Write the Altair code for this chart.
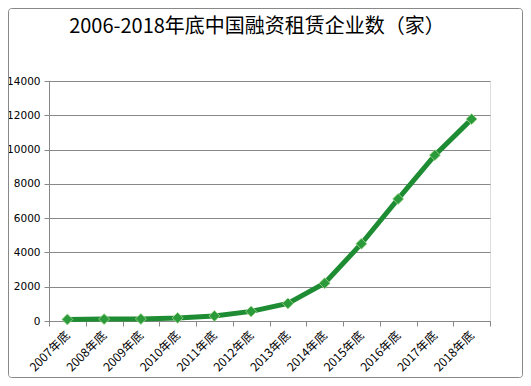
import altair as alt
import pandas as pd

years = ["2007年底", "2008年底", "2009年底", "2010年底", "2011年底", "2012年底",
         "2013年底", "2014年底", "2015年底", "2016年底", "2017年底", "2018年底"]
counts = [93, 110, 120, 182, 296, 560, 1026, 2202, 4508, 7120, 9676, 11777]
y_ticks = [0, 2000, 4000, 6000, 8000, 10000, 12000, 14000]
title_text = "2006-2018年底中国融资租赁企业数（家）"

df = pd.DataFrame({"year": years, "count": counts})

x_enc = alt.X("year:N", sort=years, title=None,
              scale=alt.Scale(paddingInner=0, paddingOuter=0),
              axis=alt.Axis(labelAngle=-45, labelAlign="right", labelBaseline="middle",
                            tickBand="extent", labelFont="Noto Sans CJK SC",
                            labelFontSize=12, labelColor="#000", domainColor="#888",
                            tickColor="#888", tickSize=5, labelPadding=7, grid=False))
y_enc = alt.Y("count:Q", title=None,
              scale=alt.Scale(domain=[0, 14000], nice=False),
              axis=alt.Axis(values=y_ticks, format="d", labelFont="DejaVu Sans", labelFontSize=10.5,
                            labelColor="#000", domainColor="#888", tickColor="#888",
                            tickSize=5, gridColor="#888", gridWidth=1, labelPadding=4))

line = alt.Chart(df).mark_line(color="#1e8c32", strokeWidth=5).encode(x=x_enc, y=y_enc)
pts = alt.Chart(df).mark_point(shape="diamond", filled=True, size=120, color="#2a9a3a",
                               stroke="#a6d98f", strokeWidth=0.8, opacity=1).encode(x=x_enc, y=y_enc)

one = pd.DataFrame({"t": [title_text]})
border = alt.Chart(one).mark_rect(
    fill="transparent", stroke="#888", strokeWidth=1, cornerRadius=3, clip=False
).encode(x=alt.value(-40.5), x2=alt.value(473.5), y=alt.value(-72.5), y2=alt.value(296.5))

title = alt.Chart(one).mark_text(
    font="Noto Sans CJK SC", fontSize=20, color="#000", align="center", baseline="middle"
).encode(text="t:N", x=alt.value(208), y=alt.value(-54))

chart = alt.layer(border, line, pts, title).properties(
    width=441, height=240,
    padding={"left": 41, "top": 73, "right": 33, "bottom": 57},
    autosize=alt.AutoSizeParams(type="none"),
).configure_view(stroke=None).configure(background="white")

chart.save("out.html", embed_options={"renderer": "svg", "actions": False})
